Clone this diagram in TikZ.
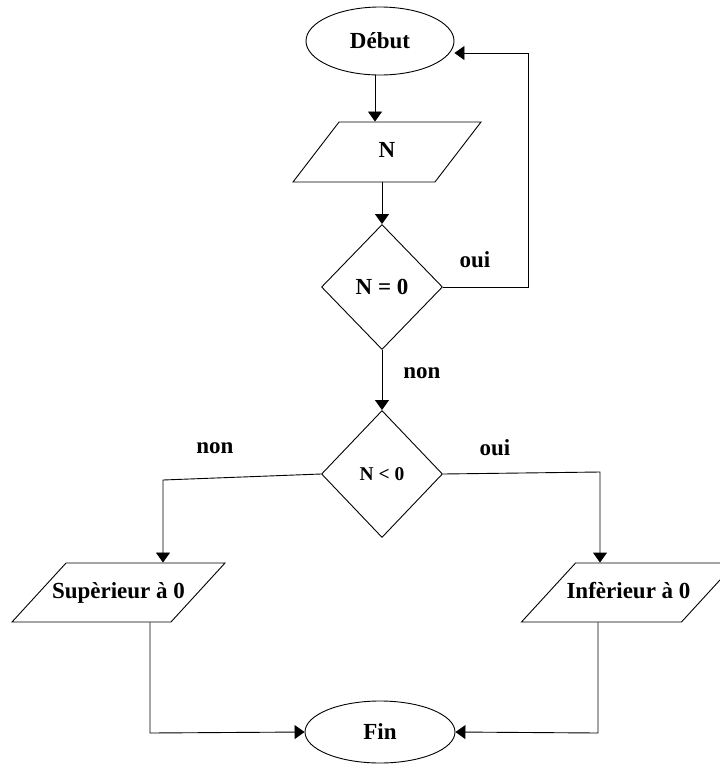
\documentclass[tikz,border=0pt]{standalone}
\usepackage{fontspec}
\setmainfont{Liberation Serif}
\usepackage{tikz}
\usetikzlibrary{arrows,positioning,calc,shapes.geometric}
\usetikzlibrary{arrows.meta}
\tikzset{terminal state/.style={draw=black, ellipse, inner sep=0pt, line width=0.9pt}}
\tikzset{io state/.style={draw=black, trapezium, trapezium left angle=#1, trapezium right angle=180-#1,
		trapezium stretches body=true, inner xsep=0pt, text height=16pt, text depth=5pt, line width=0.9pt}}
\tikzset{decision state/.style={draw=black, diamond, inner sep=0pt, minimum width=121pt, line width=0.9pt}}
\tikzset{branch label/.style={draw=none, inner sep=0pt}}
\newcommand{\grand}{\bfseries\fontsize{23}{27}\selectfont}
\newcommand{\petit}{\bfseries\fontsize{19.5}{23}\selectfont}

\begin{document}
\begin{tikzpicture}[->,>={Triangle[length=10pt,width=14pt]},x=1pt,y=-1pt,
					line width=0.9pt, font=\grand]
					\useasboundingbox (0,0) rectangle (720,764);
					\node[terminal state, minimum width=148pt, minimum height=68pt] at (380,41) (debut) {Début};
					\node[io state=52.5, inner ysep=19.5pt, minimum width=188pt] at (387,152) (lire) {N};
					\node[decision state, minimum height=125pt] at (382,287) (test1) {N = 0};
					\node[decision state, minimum height=127pt, font=\petit] at (382,474) (test2) {N < 0};
					\node[io state=47.5, inner ysep=19pt, inner xsep=-14pt] at (118.5,592.5) (sup) {Supèrieur à 0};
					\node[io state=47.5, inner ysep=19pt, inner xsep=-9pt] at (628.5,592.5) (inf) {Infèrieur à 0};
					\node[terminal state, minimum width=150pt, minimum height=62pt] at (380,732) (fin) {Fin};
					\coordinate (retour) at (528,53);
					\coordinate (gauche) at (163,480);
					\coordinate (droite) at (600,472);
					\coordinate (bg) at (150,733);
					\coordinate (bd) at (598,733);
					\draw ([xshift=-5pt]debut.south) -- ([xshift=-5pt]debut.south |- lire.north);
					\draw (lire.south -| test1.north) -- (test1.north);
					\draw (test1.east) -| (retour) -- (retour -| debut.east);
					\draw (test1.south) -- (test2.north);
					\draw (test2.west) -- (gauche) -- (gauche |- sup.north);
					\draw (test2.east) -- (droite) -- (droite |- inf.north);
					\draw (bg |- sup.south) -- (bg) -- (fin.west);
					\draw (bd |- inf.south) -- (bd) -- (fin.east);
					\node[branch label] at (475,260) (oui1) {oui};
					\node[branch label] at (422,373) (non1) {non};
					\node[branch label] at (215,448) (non2) {non};
					\node[branch label] at (495,448) (oui2) {oui};
				\end{tikzpicture}
\end{document}
